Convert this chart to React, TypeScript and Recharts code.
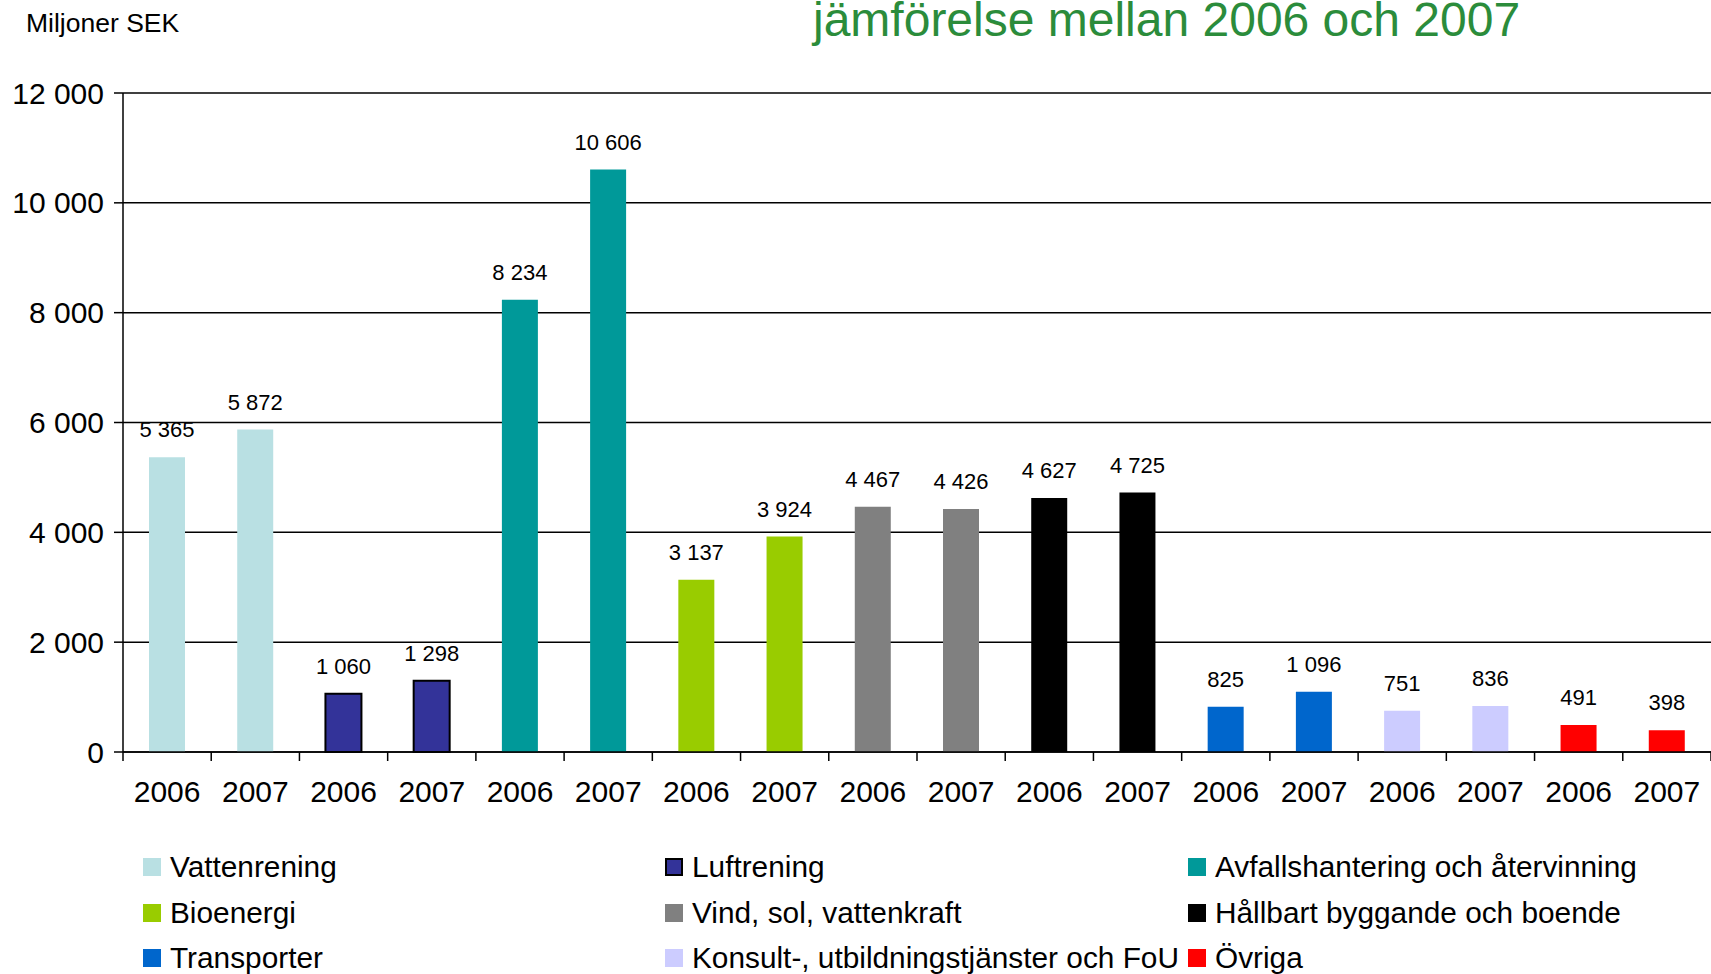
import React from 'react';
import { BarChart, Bar, XAxis, YAxis, CartesianGrid, Cell, LabelList } from 'recharts';

const categories = [
  'Vattenrening',
  'Luftrening',
  'Avfallshantering och återvinning',
  'Bioenergi',
  'Vind, sol, vattenkraft',
  'Hållbart byggande och boende',
  'Transporter',
  'Konsult-, utbildningstjänster och FoU',
  'Övriga',
];
const categoryColors = ['#B9E0E3', '#333399', '#009999', '#99CC00', '#808080', '#000000', '#0066CC', '#CCCCFF', '#FF0000'];
const categoryStroke = ['none', '#000000', 'none', 'none', 'none', 'none', 'none', 'none', 'none'];
const years = ['2006', '2007'];
const values2006 = [5365, 1060, 8234, 3137, 4467, 4627, 825, 751, 491];
const values2007 = [5872, 1298, 10606, 3924, 4426, 4725, 1096, 836, 398];
const yTicks = [0, 2000, 4000, 6000, 8000, 10000, 12000];
const boundaryTicks = [0, 1, 2, 3, 4, 5, 6, 7, 8, 9, 10, 11, 12, 13, 14, 15, 16, 17, 18];

const data = categories.flatMap((c, i) => [
  { key: `${i}-0`, year: years[0], value: values2006[i], cat: i, pos: i * 2 + 0.5 },
  { key: `${i}-1`, year: years[1], value: values2007[i], cat: i, pos: i * 2 + 1.5 },
]);

const fmt = (n: number) => String(n).replace(/\B(?=(\d{3})+(?!\d))/g, ' ');

const FONT = '"Liberation Sans", Arial, Helvetica, sans-serif';

// legend layout: 3 columns x 3 rows
const legendCols = [143, 665, 1188];
const legendRows = [867, 913, 958];

const ValueLabel = (props: any) => {
  const { x, y, width, value } = props;
  return (
    <text x={Number(x) + Number(width) / 2} y={Number(y) - 20} textAnchor="middle" fill="#000" fontSize={22} fontFamily={FONT}>
      {fmt(Number(value))}
    </text>
  );
};

const EmptyTick = () => <g />;

export default function App() {
  return (
    <div style={{ position: 'absolute', left: 0, top: 0, width: 1711, height: 974, background: '#fff', fontFamily: FONT, overflow: 'hidden' }}>
      <div style={{ position: 'absolute', left: 26, top: 8, fontSize: 26.5, color: '#000', whiteSpace: 'nowrap', lineHeight: '30px' }}>Miljoner SEK</div>
      <div style={{ position: 'absolute', left: 813, top: -8, fontSize: 48, color: '#2B8C3B', whiteSpace: 'nowrap', lineHeight: '56px' }}>
        jämförelse mellan 2006 och 2007
      </div>
      <BarChart
        width={1711}
        height={974}
        data={data}
        margin={{ top: 93, right: 0, left: 0, bottom: 161 }}
        style={{ position: 'absolute', left: 0, top: 0 }}
      >
        <CartesianGrid horizontal vertical={false} stroke="#000" strokeWidth={1.5} yAxisId="y" xAxisId="b" />
        <XAxis
          xAxisId="b"
          dataKey="key"
          type="category"
          interval={0}
          tickFormatter={(v: string) => years[Number(String(v).split('-')[1])]}
          tickLine={false}
          axisLine={false}
          tickSize={0}
          tickMargin={28}
          height={60}
          tick={{ fill: '#000', fontSize: 30, fontFamily: FONT }}
        />
        <XAxis
          xAxisId="a"
          type="number"
          dataKey="pos"
          domain={[0, 18]}
          allowDataOverflow
          ticks={boundaryTicks}
          interval={0}
          tick={EmptyTick}
          tickFormatter={() => ''}
          tickSize={9}
          tickLine={{ stroke: '#000', strokeWidth: 1.5 }}
          axisLine={{ stroke: '#000', strokeWidth: 1.5 }}
          height={1}
        />
        <YAxis
          yAxisId="y"
          domain={[0, 12000]}
          ticks={yTicks}
          interval={0}
          width={123}
          tickSize={9}
          tickMargin={10}
          tickFormatter={(v: number) => fmt(v)}
          tick={{ fill: '#000', fontSize: 30, fontFamily: FONT }}
          tickLine={{ stroke: '#000', strokeWidth: 1.5 }}
          axisLine={{ stroke: '#000', strokeWidth: 1.5 }}
        />
        <Bar dataKey="value" xAxisId="b" yAxisId="y" barSize={36} isAnimationActive={false}>
          {data.map((d) => (
            <Cell
              key={d.key}
              fill={categoryColors[d.cat]}
              stroke={categoryStroke[d.cat]}
              strokeWidth={categoryStroke[d.cat] === 'none' ? 0 : 2}
            />
          ))}
          <LabelList dataKey="value" content={ValueLabel} />
        </Bar>
      </BarChart>
      {categories.map((c, i) => {
        const col = i % 3;
        const row = Math.floor(i / 3);
        return (
          <div
            key={c}
            style={{
              position: 'absolute',
              left: legendCols[col],
              top: legendRows[row] - 18,
              height: 36,
              display: 'flex',
              alignItems: 'center',
              whiteSpace: 'nowrap',
              fontSize: 29.8,
              color: '#000',
            }}
          >
            <span
              style={{
                display: 'inline-block',
                width: 18,
                height: 18,
                boxSizing: 'border-box',
                background: categoryColors[i],
                border: categoryStroke[i] === 'none' ? 'none' : '2px solid #000',
                marginRight: 9,
              }}
            />
            <span>{c}</span>
          </div>
        );
      })}
    </div>
  );
}
